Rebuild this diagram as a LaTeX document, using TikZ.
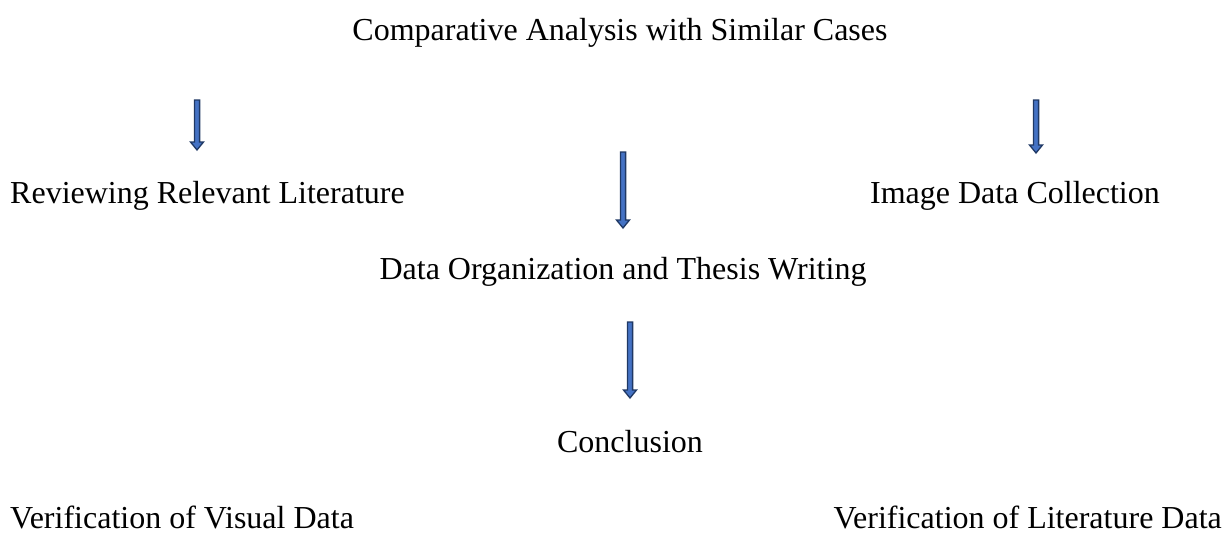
\documentclass[tikz,border=0pt]{standalone}
\usepackage{fontspec}
\setmainfont{Liberation Serif}
\usetikzlibrary{calc}
\definecolor{arrfill}{HTML}{4472C4}
\definecolor{arrline}{HTML}{1F3864}
\tikzset{
  lbl/.style={inner sep=0pt, font=\fontsize{32}{38}\selectfont},
  arrowsty/.style={fill=arrfill, draw=arrline, line width=1.3pt, line join=miter}
}
\newcommand\blkarrow[2]{\draw[arrowsty] ($(#1)+(-2.6,0)$) -- ($(#2)+(-2.6,-8)$) -- ($(#2)+(-6.5,-8)$) -- (#2) -- ($(#2)+(6.5,-8)$) -- ($(#2)+(2.6,-8)$) -- ($(#1)+(2.6,0)$) -- cycle;}
\begin{document}
\begin{tikzpicture}[x=1pt,y=-1pt]
\useasboundingbox (0,0) rectangle (1225,541);
\node[lbl, anchor=base] (cmp) at (620,40) {Comparative Analysis with Similar Cases};
\node[lbl, anchor=base west] (rev) at (10,203) {Reviewing Relevant Literature};
\node[lbl, anchor=base east] (img) at (1160,203) {Image Data Collection};
\node[lbl, anchor=base] (dat) at (623,279) {Data Organization and Thesis Writing};
\node[lbl, anchor=base] (con) at (630,452) {Conclusion};
\node[lbl, anchor=base west] (vvd) at (10,528) {Verification of Visual Data};
\node[lbl, anchor=base east] (vld) at (1222,528) {Verification of Literature Data};
\coordinate (a1s) at (197,100); \coordinate (a1e) at (197,150);
\coordinate (a2s) at (623,152); \coordinate (a2e) at (623,228);
\coordinate (a3s) at (1036,100); \coordinate (a3e) at (1036,153);
\coordinate (a4s) at (630,322); \coordinate (a4e) at (630,398);
\blkarrow{a1s}{a1e}
\blkarrow{a2s}{a2e}
\blkarrow{a3s}{a3e}
\blkarrow{a4s}{a4e}
\end{tikzpicture}
\end{document}
